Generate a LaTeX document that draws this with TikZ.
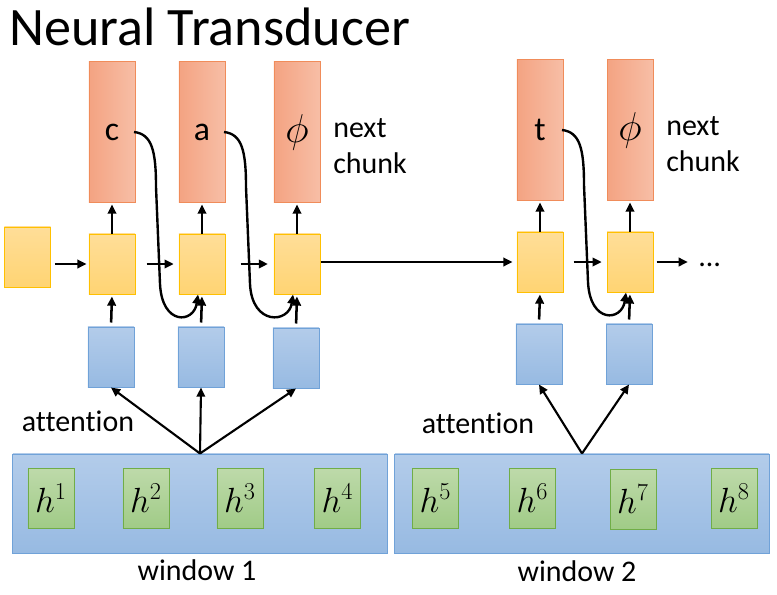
\documentclass[tikz,border=0pt]{standalone}
\usepackage{amsmath}
\usepackage{fontspec}
\setmainfont{Carlito}[Ligatures=NoCommon]
\usetikzlibrary{arrows.meta}
\definecolor{outL}{RGB}{244,163,130}
\definecolor{outR}{RGB}{247,190,166}
\definecolor{outline}{RGB}{240,140,90}
\definecolor{cellT}{RGB}{255,222,152}
\definecolor{cellB}{RGB}{255,212,115}
\definecolor{cellline}{RGB}{255,192,0}
\definecolor{attT}{RGB}{179,204,234}
\definecolor{attB}{RGB}{151,186,226}
\definecolor{attline}{RGB}{112,162,216}
\definecolor{encT}{RGB}{190,218,170}
\definecolor{encB}{RGB}{160,203,135}
\definecolor{encline}{RGB}{112,173,71}
\tikzset{
  outbox/.style={draw=outline, line width=0.7pt, left color=outL, right color=outR,
    minimum width=1.15cm, minimum height=3.5cm, inner sep=0pt, font=\fontsize{24}{28}\selectfont},
  cellbox/.style={draw=cellline, line width=0.7pt, top color=cellT, bottom color=cellB,
    minimum width=1.15cm, minimum height=1.5cm, inner sep=0pt},
  attbox/.style={draw=attline, line width=0.7pt, top color=attT, bottom color=attB,
    minimum width=1.15cm, minimum height=1.5cm, inner sep=0pt},
  winbox/.style={draw=attline, line width=0.7pt, top color=attT, bottom color=attB,
    minimum width=9.35cm, minimum height=2.475cm, inner sep=0pt},
  encbox/.style={draw=encline, line width=0.7pt, top color=encT, bottom color=encB,
    minimum width=1.15cm, minimum height=1.5cm, inner sep=0pt, font=\fontsize{24}{28}\selectfont},
  txt/.style={inner sep=0pt, font=\fontsize{21.3}{25.6}\selectfont},
  arr/.style={-{Triangle[length=6.5pt,width=6pt]}, line width=1.8pt},
  skip/.style={-{Triangle[length=6.5pt,width=6pt]}, line width=1.7pt}
}
\newcommand{\outnode}[3] {\node at (#1) (#2) [outbox] {#3};}
\newcommand{\cellnode}[2] {\node at (#1) (#2) [cellbox] {};}
\newcommand{\attnode}[2] {\node at (#1) (#2) [attbox] {};}
\newcommand{\encnode}[3] {\node at (#1) (#2) [encbox] {$h^{#3}$};}
\newcommand{\skiparc}[2] {\draw [skip] ([xshift=0.55cm]#1.center) .. controls +(18,2) and +(0,-36) .. ++(22,55) -- ++(4,97) .. controls +(2,42) and +(-4,29) .. ([xshift=-0.1cm]#2.south);}

\begin{document}
\begin{tikzpicture}[x=0.025cm, y=-0.025cm]
\useasboundingbox (0,0) rectangle (777,594);

\node at (9,45) (title) [anchor=base west, inner sep=0pt, font=\fontsize{38.5}{42}\selectfont] {Neural Transducer};

% output labels
\outnode {112,132} {c} {c};
\outnode {202,132} {a} {a};
\outnode {297,132} {phi1} {\scalebox{1.15}{$\phi$}};
\outnode {540,130} {t} {t};
\outnode {630,130} {phi2} {\scalebox{1.15}{$\phi$}};
\node at (333,146) (next1) [txt, anchor=west, align=left] {next\\chunk};
\node at (666,144) (next2) [txt, anchor=west, align=left] {next\\chunk};

% transducer cells
\cellnode {27.5,257} {in};
\cellnode {112,264} {y1};
\cellnode {202,264} {y2};
\cellnode {297,264} {y3};
\cellnode {540,262} {y4};
\cellnode {630,262} {y5};
\node at (699,266) (dots) [txt, anchor=base west] {\dots};

% attention contexts
\attnode {111,357} {b1};
\attnode {201,357} {b2};
\attnode {296,358} {b3};
\attnode {539,354} {b4};
\attnode {629,354} {b5};

% encoder windows
\node at (200,503.5) (w1) [winbox] {};
\node at (582,503.5) (w2) [winbox] {};
\encnode {51,498} {h1} {1};
\encnode {146,498} {h2} {2};
\encnode {240,498} {h3} {3};
\encnode {337.5,498} {h4} {4};
\encnode {435.5,498} {h5} {5};
\encnode {532.5,498} {h6} {6};
\encnode {633,499} {h7} {7};
\encnode {734,498} {h8} {8};
\node at (78,421) (att1) [txt] {attention};
\node at (478,423) (att2) [txt] {attention};
\node at (197,570) (win1) [txt] {window 1};
\node at (577,571) (win2) [txt] {window 2};

% recurrence
\draw [arr, shorten <=0.1cm, shorten >=0.05cm] (in.east |- y1.west) -- (y1.west);
\draw [arr, shorten <=0.28cm, shorten >=0.12cm] (y1) -- (y2);
\draw [arr, shorten <=0.38cm, shorten >=0.14cm] (y2) -- (y3);
\draw [arr, shorten >=0.1cm] (y3.east |- y4.west) -- (y4.west);
\draw [arr, shorten <=0.25cm, shorten >=0.12cm] (y4) -- (y5);
\draw [arr, shorten <=0.08cm, shorten >=0.28cm] (y5.east) -- (y5.east -| dots.west);

% outputs
\draw [arr, shorten >=0.05cm] (y1) -- (c);
\draw [arr, shorten >=0.05cm] (y2) -- (a);
\draw [arr, shorten >=0.05cm] (y3) -- (phi1);
\draw [arr, shorten >=0.05cm] (y4) -- (t);
\draw [arr, shorten >=0.05cm] (y5) -- (phi2);

% contexts into cells
\draw [arr, shorten <=0.1cm, shorten >=0.05cm] (b1.north) -- (y1.south);
\draw [arr, shorten <=0.1cm, shorten >=0.05cm] (b2.north) -- (y2.south);
\draw [arr, shorten <=0.1cm, shorten >=0.05cm] (b3.north) -- (y3.south);
\draw [arr, shorten <=0.1cm, shorten >=0.05cm] (b4.north) -- (y4.south);
\draw [arr, shorten <=0.1cm, shorten >=0.05cm] (b5.north) -- (y5.south);

% previous output fed back
\skiparc {c} {y2};
\skiparc {a} {y3};
\skiparc {t} {y5};

% attention over the windows
\draw [arr, line width=1.5pt] (w1.north) -- (b1.south);
\draw [arr, line width=1.5pt] (w1.north) -- (b2.south);
\draw [arr, line width=1.5pt] (w1.north) -- (b3.south);
\draw [arr, line width=1.5pt] (w2.north) -- (b4.south);
\draw [arr, line width=1.5pt] (w2.north) -- (b5.south);
\end{tikzpicture}
\end{document}
